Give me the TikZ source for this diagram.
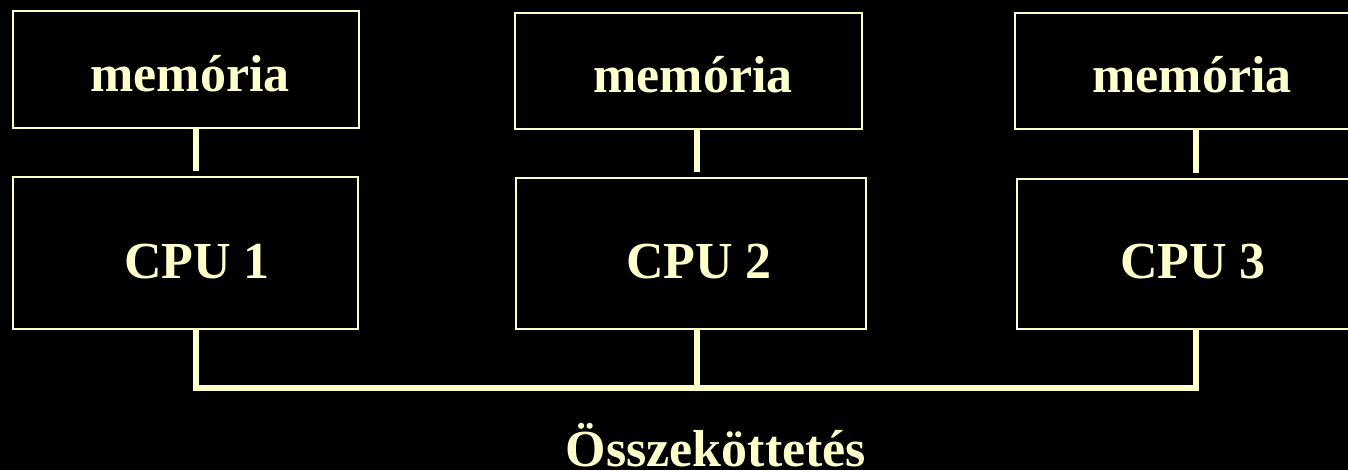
\documentclass[tikz,border=0pt]{standalone}
\usepackage{fontspec}
\setmainfont{Liberation Serif}
\definecolor{cream}{HTML}{FFFFCC}
\begin{document}
\begin{tikzpicture}[x=1pt,y=-1pt,
  box/.style={draw=cream,line width=2pt,rectangle,inner sep=0pt},
  lbl/.style={text=cream,font=\fontsize{52}{60}\selectfont\bfseries,anchor=base,inner sep=0pt},
  wire/.style={draw=cream,line width=6pt}]
\fill[black] (0,0) rectangle (1348,470);
\useasboundingbox (0,0) rectangle (1348,470);
\clip (0,0) rectangle (1348,470);
% boxes
\node[box,minimum width=346pt,minimum height=117pt] (m1) at (186,69.5) {};
\node[box,minimum width=345pt,minimum height=152pt] (c1) at (185.5,253) {};
\node[box,minimum width=347pt,minimum height=116pt] (m2) at (688.5,71) {};
\node[box,minimum width=350pt,minimum height=151pt] (c2) at (691,253.5) {};
\node[box,minimum width=345pt,minimum height=116pt] (m3) at (1187.5,71) {};
\node[box,minimum width=345pt,minimum height=150pt] (c3) at (1189.5,254) {};
% labels
\node[lbl] (t1) at (190,92) {memória};
\node[lbl] (t2) at (693,93) {memória};
\node[lbl] (t3) at (1192,93) {memória};
\node[lbl] (u1) at (197,278) {CPU 1};
\node[lbl] (u2) at (699,278) {CPU 2};
\node[lbl] (u3) at (1193,278) {CPU 3};
\node[lbl] (bus) at (716,466) {Összeköttetés};
% bus coordinates
\coordinate (b1) at (196,388);
\coordinate (b2) at (697,388);
\coordinate (b3) at (1196,388);
% connectors
\draw[wire] (m1.south -| b1) -- ([yshift=5pt]c1.north -| b1);
\draw[wire] (m2.south -| b2) -- ([yshift=5pt]c2.north -| b2);
\draw[wire] (m3.south -| b3) -- ([yshift=5pt]c3.north -| b3);
\draw[wire,line join=miter] (c1.south -| b1) -- (b1) -- (b3) -- (c3.south -| b3);
\draw[wire] (c2.south -| b2) -- (b2);
\end{tikzpicture}
\end{document}
